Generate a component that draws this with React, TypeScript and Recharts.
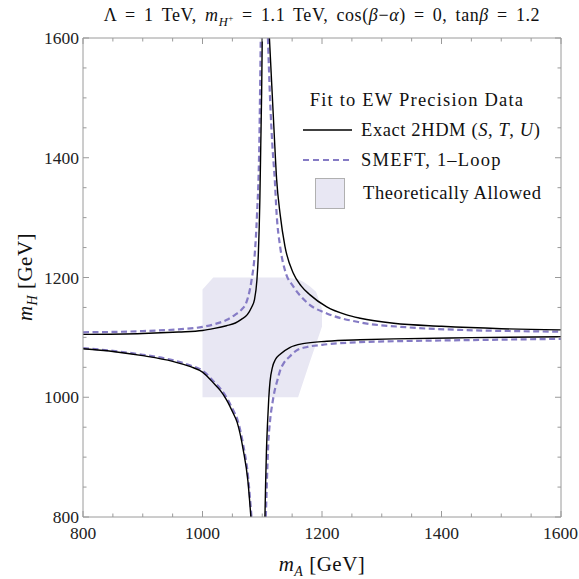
import { ComposedChart, XAxis, YAxis, Line, Area, Legend } from "recharts";

// Axis ticks (GeV); labels only on every 200
const X_TICKS = [800, 850, 900, 950, 1000, 1050, 1100, 1150, 1200, 1250, 1300, 1350, 1400, 1450, 1500, 1550, 1600];
const Y_TICKS = [800, 850, 900, 950, 1000, 1050, 1100, 1150, 1200, 1250, 1300, 1350, 1400, 1450, 1500, 1550, 1600];

// Exact 2HDM (S,T,U) contours, [mA, mH]
const exactUpperLeft = [
  [800, 1105], [900, 1106.5], [960, 1109], [1000, 1111.5], [1020, 1115], [1040, 1119.5],
  [1055, 1124], [1065, 1130], [1075, 1138], [1082, 1150], [1087, 1163], [1091, 1195],
  [1093.5, 1240], [1096, 1330], [1097.5, 1420], [1099, 1510], [1100, 1600],
];
const exactUpperRight = [
  [1112, 1600], [1116, 1520], [1120, 1440], [1124, 1365], [1130, 1305], [1138, 1252],
  [1152, 1207], [1165, 1186], [1180, 1171], [1208, 1151], [1240, 1138], [1264, 1132],
  [1320, 1123.5], [1400, 1118.5], [1500, 1114.5], [1600, 1112.5],
];
const exactLowerLeft = [
  [800, 1081], [850, 1076.5], [900, 1069.5], [950, 1060], [980, 1051], [1000, 1042],
  [1020, 1022], [1030, 1011], [1040, 996], [1051, 974], [1058, 958], [1068, 913],
  [1076, 860], [1081, 800],
];
const exactLowerRight = [
  [1104.5, 800], [1105.5, 850], [1107, 910], [1109, 960], [1111, 1000], [1113, 1026],
  [1117, 1050], [1122, 1063], [1130, 1072], [1146, 1083], [1168, 1089.5], [1208, 1093.5],
  [1264, 1096], [1320, 1097.5], [1450, 1099.5], [1600, 1101],
];

// SMEFT one-loop contours, [mA, mH]
const smeftUpperLeft = [
  [800, 1108.5], [900, 1110.5], [960, 1113.5], [1000, 1117.5], [1020, 1122], [1040, 1129],
  [1055, 1138], [1065, 1146], [1074, 1160], [1082, 1195], [1087.5, 1240], [1091, 1300],
  [1095, 1420], [1097.5, 1600],
];
const smeftUpperRight = [
  [1109.5, 1600], [1113, 1500], [1117, 1420], [1121, 1363], [1124, 1307], [1130, 1251],
  [1138, 1212], [1152, 1185], [1165, 1168], [1180, 1154], [1208, 1140], [1264, 1125],
  [1340, 1117], [1430, 1112.5], [1520, 1110.5], [1600, 1109.5],
];
const smeftLowerLeft = [
  [800, 1082], [850, 1077.5], [900, 1071], [950, 1062], [980, 1053], [1000, 1044.5],
  [1020, 1025], [1030, 1014.5], [1040, 1000], [1051, 979], [1058, 964], [1068, 921],
  [1076, 870], [1082, 800],
];
const smeftLowerRight = [
  [1106, 800], [1107.5, 850], [1110, 920], [1113, 960], [1117, 990], [1121, 1012],
  [1125, 1027], [1130, 1045], [1136, 1057], [1146, 1068], [1157, 1078], [1175, 1084],
  [1200, 1087.5], [1264, 1092], [1320, 1093.5], [1450, 1095.5], [1600, 1097.5],
];

// Theoretically allowed region: mA -> [lower mH, upper mH]
const allowedMA = [1000, 1018, 1140, 1160, 1170, 1180, 1190, 1200];
const allowedLow = [1000, 1000, 1000, 1000, 1030, 1060, 1089, 1118];
const allowedHigh = [1180, 1200, 1200, 1197, 1192, 1185, 1176, 1148];

const FRAME = "#9a9a9a";
const PURPLE = "#857bc5";
const SHADE = "#e8e7f3";
const SERIF = "'Liberation Serif', 'Times New Roman', serif";

const toPoints = (pts: number[][]) => pts.map(([x, y]) => ({ x, y }));
const allowedBand = allowedMA.map((x, i) => ({ x, band: [allowedLow[i], allowedHigh[i]] }));

const isMajor = (v: number) => v % 200 === 0;

function BottomTick({ x, y, payload }: any) {
  const v = payload.value;
  // last label hugs the right edge
  const last = v === X_TICKS[X_TICKS.length - 1];
  return (
    <g>
      <line x1={x} x2={x} y1={y} y2={y - (isMajor(v) ? 6 : 3.5)} stroke={FRAME} />
      {isMajor(v) && (
        <text
          x={last ? x + 17 : x}
          y={y + 22}
          textAnchor={last ? "end" : "middle"}
          fontFamily={SERIF}
          fontSize={17.5}
          fill="#222"
        >
          {v}
        </text>
      )}
    </g>
  );
}

function TopTick({ x, y, payload }: any) {
  const v = payload.value;
  return <line x1={x} x2={x} y1={y} y2={y + (isMajor(v) ? 6 : 3.5)} stroke={FRAME} />;
}

function LeftTick({ x, y, payload }: any) {
  const v = payload.value;
  return (
    <g>
      <line x1={x} x2={x + (isMajor(v) ? 6 : 3.5)} y1={y} y2={y} stroke={FRAME} />
      {isMajor(v) && (
        <text x={x - 4} y={y + 6} textAnchor="end" fontFamily={SERIF} fontSize={17.5} fill="#222">
          {v}
        </text>
      )}
    </g>
  );
}

function RightTick({ x, y, payload }: any) {
  const v = payload.value;
  return <line x1={x} x2={x - (isMajor(v) ? 6 : 3.5)} y1={y} y2={y} stroke={FRAME} />;
}

function FitLegend() {
  return (
    <svg width={270} height={130} style={{ display: "block", overflow: "visible" }}>
      <g fontFamily={SERIF} fontSize={18.5} fill="#111" letterSpacing={0.6}>
        <text x={122} y={21} textAnchor="middle" letterSpacing={1.2}>
          Fit to EW Precision Data
        </text>
        <line x1={8} x2={57} y1={45} y2={45} stroke="#000" strokeWidth={1.4} />
        <text x={66} y={51}>
          Exact 2HDM (<tspan fontStyle="italic">S</tspan>, <tspan fontStyle="italic">T</tspan>,{" "}
          <tspan fontStyle="italic">U</tspan>)
        </text>
        <line x1={8} x2={57} y1={75} y2={75} stroke={PURPLE} strokeWidth={2} strokeDasharray="6 4" />
        <text x={66} y={81} letterSpacing={1.2}>
          SMEFT, 1–Loop
        </text>
        <rect x={20.5} y={93.5} width={29} height={30} fill={SHADE} stroke="#b0b0b0" />
        <text x={68} y={114}>Theoretically Allowed</text>
      </g>
    </svg>
  );
}

const exactLines = [exactUpperLeft, exactUpperRight, exactLowerLeft, exactLowerRight];
const smeftLines = [smeftUpperLeft, smeftUpperRight, smeftLowerLeft, smeftLowerRight];

export default function App() {
  return (
    <div
      style={{
        position: "absolute",
        left: 0,
        top: 0,
        width: 579,
        height: 579,
        overflow: "hidden",
        fontFamily: SERIF,
        background: "#fff",
      }}
    >
      <ComposedChart width={579} height={579} margin={{ top: 28, right: 8, bottom: 32, left: 43 }}>
        <XAxis
          type="number"
          dataKey="x"
          domain={[800, 1600]}
          ticks={X_TICKS}
          interval={0}
          allowDataOverflow
          tick={<BottomTick />}
          tickLine={false}
          tickSize={0}
          tickMargin={0}
          axisLine={{ stroke: FRAME }}
          height={30}
        />
        <XAxis
          xAxisId="top"
          orientation="top"
          type="number"
          dataKey="x"
          domain={[800, 1600]}
          ticks={X_TICKS}
          interval={0}
          allowDataOverflow
          tick={<TopTick />}
          tickLine={false}
          tickSize={0}
          tickMargin={0}
          axisLine={{ stroke: FRAME }}
          height={10}
        />
        <YAxis
          type="number"
          domain={[800, 1600]}
          ticks={Y_TICKS}
          interval={0}
          allowDataOverflow
          tick={<LeftTick />}
          tickLine={false}
          tickSize={0}
          tickMargin={0}
          axisLine={{ stroke: FRAME }}
          width={40}
        />
        <YAxis
          yAxisId="right"
          orientation="right"
          type="number"
          domain={[800, 1600]}
          ticks={Y_TICKS}
          interval={0}
          allowDataOverflow
          tick={<RightTick />}
          tickLine={false}
          tickSize={0}
          tickMargin={0}
          axisLine={{ stroke: FRAME }}
          width={10}
        />
        <Area
          data={allowedBand}
          dataKey="band"
          type="linear"
          fill={SHADE}
          fillOpacity={1}
          stroke="none"
          isAnimationActive={false}
        />
        {smeftLines.map((pts, i) => (
          <Line
            key={`smeft-${i}`}
            data={toPoints(pts)}
            dataKey="y"
            type="monotone"
            stroke={PURPLE}
            strokeWidth={2.2}
            strokeDasharray="6 3.5"
            dot={false}
            activeDot={false}
            isAnimationActive={false}
          />
        ))}
        {exactLines.map((pts, i) => (
          <Line
            key={`exact-${i}`}
            data={toPoints(pts)}
            dataKey="y"
            type="monotone"
            stroke="#000"
            strokeWidth={1.4}
            dot={false}
            activeDot={false}
            isAnimationActive={false}
          />
        ))}
        <Legend
          layout="vertical"
          align="center"
          verticalAlign="middle"
          content={<FitLegend />}
          wrapperStyle={{ position: "absolute", left: 295, top: 85, width: 270, height: 130 }}
        />
      </ComposedChart>

      <div
        style={{
          position: "absolute",
          left: 322,
          top: 5,
          transform: "translateX(-50%)",
          whiteSpace: "nowrap",
          fontSize: 18,
          lineHeight: "20px",
          letterSpacing: 0.6,
          wordSpacing: 3,
          color: "#111",
        }}
      >
        Λ = 1 TeV, <i>m</i>
        <sub style={{ fontSize: 12.5, lineHeight: 0 }}>
          <i>H</i>
          <sup style={{ fontSize: 9, lineHeight: 0 }}>+</sup>
        </sub>{" "}
        = 1.1 TeV, cos(<i>β</i>−<i>α</i>) = 0, tan<i>β</i> = 1.2
      </div>

      <div
        style={{
          position: "absolute",
          left: 322,
          top: 564,
          transform: "translate(-50%, -50%)",
          whiteSpace: "nowrap",
          fontSize: 21,
          lineHeight: "24px",
          letterSpacing: 0.5,
          color: "#111",
        }}
      >
        <i>m</i>
        <sub style={{ fontSize: 14, lineHeight: 0 }}>
          <i>A</i>
        </sub>{" "}
        [GeV]
      </div>

      <div
        style={{
          position: "absolute",
          left: 25,
          top: 277,
          transform: "translate(-50%, -50%) rotate(-90deg)",
          whiteSpace: "nowrap",
          fontSize: 21,
          lineHeight: "24px",
          letterSpacing: 0.5,
          color: "#111",
        }}
      >
        <i>m</i>
        <sub style={{ fontSize: 14, lineHeight: 0 }}>
          <i>H</i>
        </sub>{" "}
        [GeV]
      </div>
    </div>
  );
}
